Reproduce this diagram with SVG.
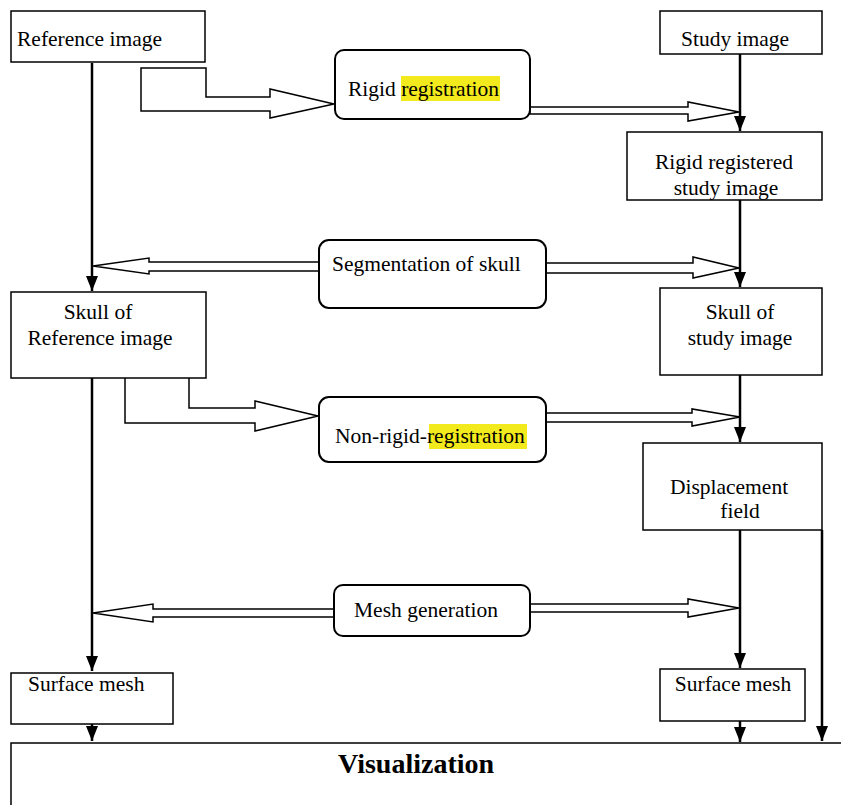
<svg xmlns="http://www.w3.org/2000/svg" width="841" height="805" viewBox="0 0 841 805">
<defs>
<marker id="ad" markerUnits="userSpaceOnUse" markerWidth="16" markerHeight="12" viewBox="0 0 16 12" refX="15" refY="6" orient="auto">
<path d="M0,0 L15,6 L0,12 Z" fill="#000"/>
</marker>
</defs>
<style>
.box{fill:#fff;stroke:#000;stroke-width:1.5}
.rbox{fill:#fff;stroke:#000;stroke-width:2}
.t{font-family:"Liberation Serif","Times New Roman",serif;font-size:21.5px;fill:#000}
.hl{fill:#f2ea1c}
.line{stroke:#000;stroke-width:2.5;fill:none}
.hollow{fill:#fff;stroke:#000;stroke-width:1.5;stroke-linejoin:miter}
</style>
<rect width="841" height="805" fill="#fff"/>

<g id="connectors">
<line class="line" x1="92" y1="63" x2="92" y2="291" marker-end="url(#ad)"/>
<line class="line" x1="92" y1="378" x2="92" y2="671" marker-end="url(#ad)"/>
<line class="line" x1="92" y1="724" x2="92" y2="741" marker-end="url(#ad)"/>
<line class="line" x1="740" y1="54" x2="740" y2="131" marker-end="url(#ad)"/>
<line class="line" x1="740" y1="200" x2="740" y2="287" marker-end="url(#ad)"/>
<line class="line" x1="740" y1="375" x2="740" y2="442" marker-end="url(#ad)"/>
<line class="line" x1="740" y1="530" x2="740" y2="668" marker-end="url(#ad)"/>
<line class="line" x1="740" y1="721" x2="740" y2="742" marker-end="url(#ad)"/>
<line class="line" x1="822" y1="530" x2="822" y2="741" marker-end="url(#ad)"/>
<path class="hollow" d="M141,68 H206 V97 H270 V89 L334,104 L270,118 V111 H141 Z"/>
<path class="hollow" d="M530,107 H688 V102 L739,112 L688,121 V114 H530 Z"/>
<path class="hollow" d="M319,262 H149 V258 L93,266 L149,274 V271 H319 Z"/>
<path class="hollow" d="M546,263 H693 V257 L739,268 L693,278 V273 H546 Z"/>
<path class="hollow" d="M125,378 V423 H255 V431 L318,416 L255,401 V408 H189 V378"/>
<path class="hollow" d="M546,413 H692 V409 L740,417 L692,426 V422 H546 Z"/>
<path class="hollow" d="M335,609 H153 V604 L93,613 L153,622 V617 H335 Z"/>
<path class="hollow" d="M530,604 H688 V599 L739,608 L688,617 V612 H530 Z"/>
</g>

<g id="ref-image">
<rect class="box" x="11" y="11" width="194" height="51"/>
<text class="t" x="17" y="46">Reference image</text>
</g>
<g id="study-image">
<rect class="box" x="660" y="11" width="162" height="43"/>
<text class="t" x="735" y="46" text-anchor="middle">Study image</text>
</g>
<g id="rigid-registration">
<rect class="rbox" x="335" y="50" width="195" height="69" rx="9"/>
<rect class="hl" x="401" y="76" width="99" height="25"/>
<text class="t" x="348" y="96">Rigid registration</text>
</g>
<g id="rigid-registered">
<rect class="box" x="627" y="132" width="195" height="68"/>
<text class="t" x="724" y="169" text-anchor="middle">Rigid registered</text>
<text class="t" x="726" y="195" text-anchor="middle">study image</text>
</g>
<g id="segmentation">
<rect class="rbox" x="319" y="240" width="227" height="68" rx="10"/>
<text class="t" x="332" y="271">Segmentation of skull</text>
</g>
<g id="skull-ref">
<rect class="box" x="11" y="292" width="195" height="86"/>
<text class="t" x="98" y="319" text-anchor="middle">Skull of</text>
<text class="t" x="100" y="345" text-anchor="middle">Reference image</text>
</g>
<g id="skull-study">
<rect class="box" x="660" y="288" width="162" height="87"/>
<text class="t" x="740" y="319" text-anchor="middle">Skull of</text>
<text class="t" x="740" y="345" text-anchor="middle">study image</text>
</g>
<g id="nonrigid">
<rect class="rbox" x="319" y="397" width="227" height="65" rx="10"/>
<rect class="hl" x="429" y="424" width="98" height="25"/>
<text class="t" x="335" y="443">Non-rigid-registration</text>
</g>
<g id="displacement">
<rect class="box" x="643" y="443" width="179" height="87"/>
<text class="t" x="729" y="494" text-anchor="middle">Displacement</text>
<text class="t" x="740" y="518" text-anchor="middle">field</text>
</g>
<g id="mesh-generation">
<rect class="rbox" x="334" y="585" width="196" height="51" rx="9"/>
<text class="t" x="354" y="617">Mesh generation</text>
</g>
<g id="surface-ref">
<rect class="box" x="11" y="673" width="162" height="51"/>
<text class="t" x="28" y="691">Surface mesh</text>
</g>
<g id="surface-study">
<rect class="box" x="660" y="669" width="145" height="52"/>
<text class="t" x="733" y="691" text-anchor="middle">Surface mesh</text>
</g>
<g id="visualization">
<rect class="box" x="11" y="743" width="840" height="80"/>
<text class="t" x="338" y="773" style="font-size:28px;font-weight:bold">Visualization</text>
</g>
</svg>
